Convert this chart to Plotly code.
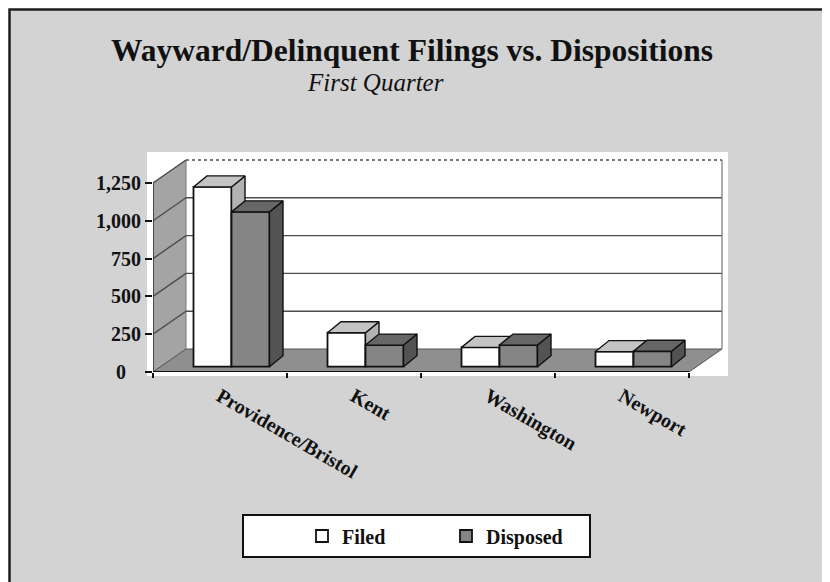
import plotly.graph_objects as go

# ---------------- data ----------------
categories = ["Providence/Bristol", "Kent", "Washington", "Newport"]
filed = [1189, 225, 128, 100]
disposed = [1024, 143, 143, 102]
series_names = ["Filed", "Disposed"]
y_ticks = [0, 250, 500, 750, 1000, 1250]
y_tick_labels = ["0\u2007\u2008", "250", "500", "750", "1,000", "1,250"]
title_text = "Wayward/Delinquent Filings vs. Dispositions"
subtitle_text = "First Quarter"

# ---------------- geometry (pixels, in window coordinates) ----------------
OFF = 8                                   # page body margin
FIG_W, FIG_H = 830, 582
L, R, T, B = 153, 727, 156, 372          # plot area
PX_PER_CAT = 134.0
PX_PER_UNIT = 37.8 / 250.0
X_MAX = (R - L) / PX_PER_CAT
Y_MAX = (B - T) / PX_PER_UNIT
N = len(categories)
Y_TOP = y_ticks[-1]


def dxu(px):
    return px / PX_PER_CAT


def dyu(px):
    return px / PX_PER_UNIT


def pxp(px):
    return (px - L) / (R - L)


def pyp(py):
    return (B - py) / (B - T)


WDX, WDY = dxu(33), dyu(23)               # wall depth
BW = dxu(38)                              # bar face width
BDX, BDY = dxu(13.5), dyu(11)             # bar depth
BASE = dyu(5.3)                           # bars stand a little back on the floor
SHIFT = dxu(11.5)

FONT = "Liberation Serif"
BG = "#d3d3d4"
C_FILED = ["#ffffff", "#c4c4c4", "#b2b2b2"]       # front, top, side
C_DISP = ["#858585", "#666666", "#535353"]
EDGE = "#111111"

centers = [i + 0.5 + SHIFT for i in range(N)]
x_filed = [c - BW / 2 for c in centers]
x_disp = [c + BW / 2 for c in centers]


def top_faces(xs, vals):
    px, py = [], []
    for x, v in zip(xs, vals):
        x0, x1, y = x - BW / 2, x + BW / 2, BASE + v
        px += [x0, x1, x1 + BDX, x0 + BDX, x0, None]
        py += [y, y, y + BDY, y + BDY, y, None]
    return px, py


def side_faces(xs, vals):
    px, py = [], []
    for x, v in zip(xs, vals):
        x1 = x + BW / 2
        px += [x1, x1 + BDX, x1 + BDX, x1, x1, None]
        py += [BASE, BASE + BDY, BASE + v + BDY, BASE + v, BASE, None]
    return px, py


fig = go.Figure()


def add_series(xs, vals, colors, name, xa, ya, lg):
    fig.add_trace(go.Bar(
        x=xs, y=vals, base=[BASE] * len(vals), width=BW, name=name,
        marker=dict(color=colors[0], line=dict(color=EDGE, width=1.8)),
        xaxis=xa, yaxis=ya, legendrank=lg, hoverinfo="skip"))
    sx, sy = side_faces(xs, vals)
    fig.add_trace(go.Scatter(x=sx, y=sy, mode="lines", fill="toself",
                             fillcolor=colors[2], line=dict(color=EDGE, width=1.4),
                             showlegend=False, xaxis=xa, yaxis=ya, hoverinfo="skip"))
    tx, ty = top_faces(xs, vals)
    fig.add_trace(go.Scatter(x=tx, y=ty, mode="lines", fill="toself",
                             fillcolor=colors[1], line=dict(color=EDGE, width=1.4),
                             showlegend=False, xaxis=xa, yaxis=ya, hoverinfo="skip"))


add_series(x_filed, filed, C_FILED, series_names[0], "x", "y", 1)
add_series(x_disp, disposed, C_DISP, series_names[1], "x2", "y2", 2)

# ---------------- walls, floor, gridlines ----------------
shapes = []
# outer frame / background
shapes.append(dict(type="rect", xref="paper", yref="paper", layer="below",
                   x0=pxp(9.5), x1=pxp(827.5), y0=pyp(9.5), y1=pyp(600),
                   fillcolor=BG, line=dict(color="#1e1e1e", width=2.5)))
# white plotting region
shapes.append(dict(type="rect", xref="paper", yref="paper", layer="below",
                   x0=pxp(147), x1=pxp(728), y0=pyp(376), y1=pyp(152),
                   fillcolor="white", line=dict(width=0)))
GRID = "#4d4d4d"
# left wall
shapes.append(dict(type="path", xref="x", yref="y", layer="below",
                   path=f"M0,0 L0,{Y_TOP} L{WDX},{Y_TOP + WDY} L{WDX},{WDY} Z",
                   fillcolor="#a4a4a4", line=dict(color="#777777", width=1)))
# floor
shapes.append(dict(type="path", xref="x", yref="y", layer="below",
                   path=f"M0,0 L{N},0 L{N + WDX},{WDY} L{WDX},{WDY} Z",
                   fillcolor="#8f8f8f", line=dict(color="#555555", width=1)))
# gridlines on side wall and back wall
for v in y_ticks[1:]:
    dash = "dot" if v == Y_TOP else "solid"
    shapes.append(dict(type="line", xref="x", yref="y", layer="below",
                       x0=0, y0=v, x1=WDX, y1=v + WDY,
                       line=dict(color=GRID, width=1.4)))
    shapes.append(dict(type="line", xref="x", yref="y", layer="below",
                       x0=WDX, y0=v + WDY, x1=N + WDX, y1=v + WDY,
                       line=dict(color=GRID, width=1.4, dash=dash)))
# back wall right edge
shapes.append(dict(type="line", xref="x", yref="y", layer="below",
                   x0=N + WDX, y0=WDY, x1=N + WDX, y1=Y_TOP + WDY,
                   line=dict(color="#777777", width=1.2)))
# value axis line and category axis line
shapes.append(dict(type="line", xref="x", yref="y", layer="below",
                   x0=0, y0=0, x1=0, y1=Y_TOP, line=dict(color="#333333", width=1.5)))
shapes.append(dict(type="line", xref="x", yref="y", layer="above",
                   x0=0, y0=0, x1=N, y1=0, line=dict(color="#111111", width=2.2)))
# legend box
shapes.append(dict(type="rect", xref="paper", yref="paper", layer="below",
                   x0=pxp(243), x1=pxp(590), y0=pyp(557), y1=pyp(515),
                   fillcolor="white", line=dict(color="#111111", width=2)))

annotations = [
    dict(text=f"<b>{title_text}</b>", xref="paper", yref="paper",
         x=pxp(412), y=pyp(51), xanchor="center", yanchor="middle", showarrow=False,
         font=dict(family=FONT, size=31.5, color="#111111")),
    dict(text=f"<i>{subtitle_text}</i>", xref="paper", yref="paper",
         x=pxp(375), y=pyp(83), xanchor="center", yanchor="middle", showarrow=False,
         font=dict(family=FONT, size=25, color="#111111")),
]

fig.update_layout(
    width=FIG_W - OFF, height=FIG_H - OFF,
    margin=dict(l=L - OFF, r=FIG_W - R, t=T - OFF, b=FIG_H - B, pad=0),
    paper_bgcolor="white", plot_bgcolor="rgba(0,0,0,0)",
    barmode="overlay",
    shapes=shapes, annotations=annotations,
    xaxis=dict(range=[0, X_MAX], showgrid=False, zeroline=False, showline=False,
               tickmode="array", tickvals=[i + 0.5 for i in range(N)], ticktext=categories,
               ticks="", tickangle=30, ticklabelstandoff=8,
               tickfont=dict(family=FONT, size=20, color="#111111", weight="bold"),
               minor=dict(tickmode="array", tickvals=list(range(N + 1)), ticks="outside",
                          ticklen=5, tickwidth=2, tickcolor="#111111"),
               fixedrange=True),
    yaxis=dict(range=[0, Y_MAX], showgrid=False, zeroline=False, showline=False,
               tickmode="array", tickvals=y_ticks, ticktext=y_tick_labels,
               ticks="outside", ticklen=7, tickwidth=2, tickcolor="#111111",
               tickfont=dict(family=FONT, size=20, color="#111111", weight="bold"),
               fixedrange=True),
    xaxis2=dict(range=[0, X_MAX], overlaying="x", visible=False, fixedrange=True),
    yaxis2=dict(range=[0, Y_MAX], overlaying="y", visible=False, fixedrange=True),
    legend=dict(orientation="h", x=pxp(302), y=pyp(536), xanchor="left", yanchor="middle",
                bgcolor="rgba(0,0,0,0)", borderwidth=0, entrywidth=99,
                font=dict(family=FONT, size=20, color="#111111", weight="bold"),
                traceorder="normal"),
    showlegend=True,
)

fig.write_html("out.html")
